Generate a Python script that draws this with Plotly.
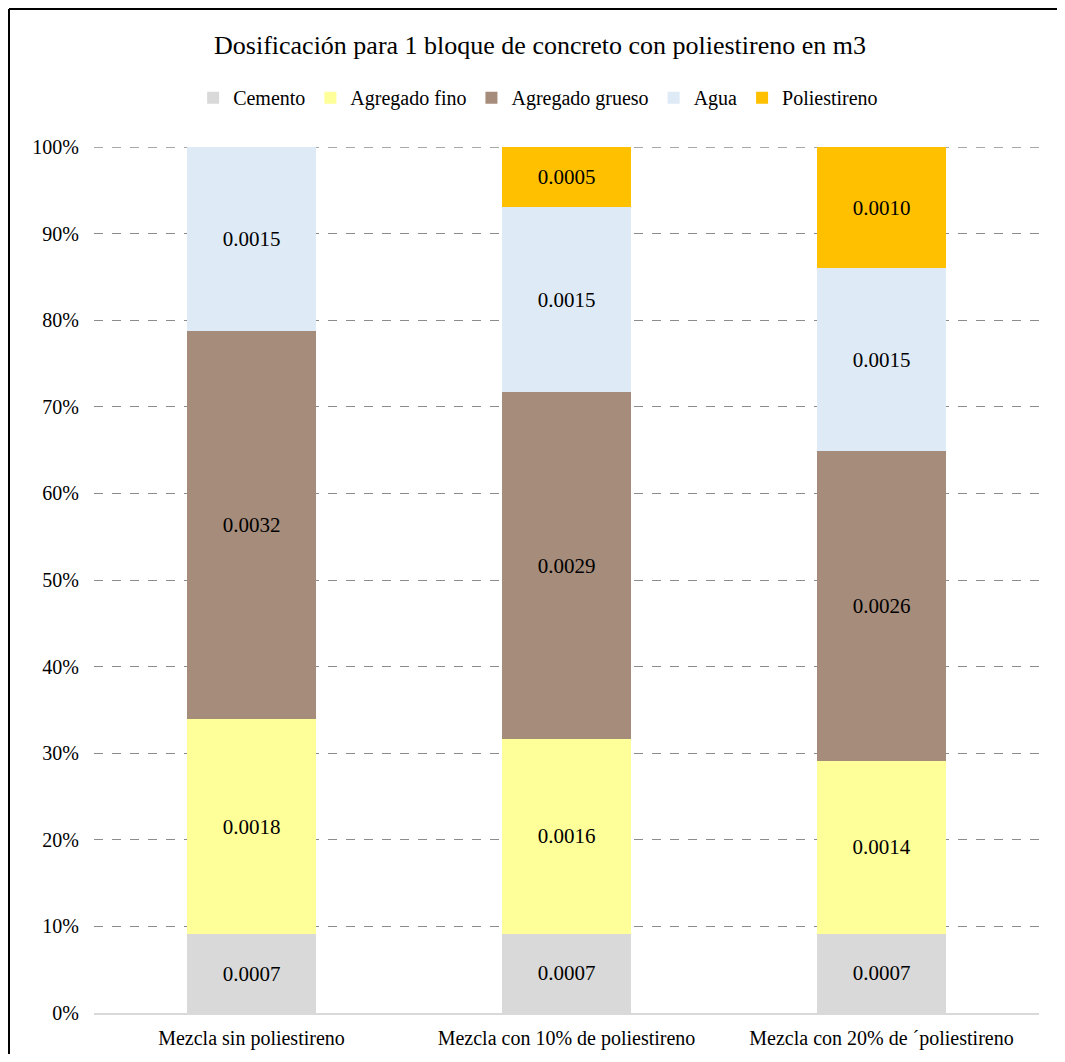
import plotly.graph_objects as go

categories = ["Mezcla sin poliestireno", "Mezcla con 10% de poliestireno", "Mezcla con 20% de ´poliestireno"]
series_names = ["Cemento", "Agregado fino", "Agregado grueso", "Agua", "Poliestireno"]
cemento = [0.00066, 0.00066, 0.00066]
agregado_fino = [0.00180, 0.00162, 0.00144]
agregado_grueso = [0.00325, 0.00289, 0.00258]
agua = [0.00154, 0.00154, 0.00152]
poliestireno = [None, 0.00050, 0.00101]
colors = ["#D9D9D9", "#FFFF99", "#A68C7A", "#DEEAF6", "#FFC000"]
yticks = [0, 10, 20, 30, 40, 50, 60, 70, 80, 90, 100]

series = [cemento, agregado_fino, agregado_grueso, agua, poliestireno]
FONT = "Liberation Serif"

fig = go.Figure()
for name, vals, col in zip(series_names, series, colors):
    fig.add_trace(go.Bar(
        x=categories, y=vals, name=name,
        marker=dict(color=col, line=dict(width=0)),
        text=[("" if v is None else f"{v:.4f}") for v in vals],
        textposition="inside", insidetextanchor="middle", textangle=0,
        textfont=dict(family=FONT, size=21, color="black"),
        hoverinfo="skip",
    ))

# plot area in screen px: left 94, right 1039, top 147, bottom 1013 (page has 8px body margin)
PW = 1039 - 94
PH = 1013 - 147

def px(x):
    return (x - 94) / PW

def py(y):
    return (1013 - y) / PH

fig.update_layout(
    barmode="stack", barnorm="percent", bargap=0.59,
    width=1049, height=1046,
    margin=dict(l=86, r=18, t=139, b=41, autoexpand=False),
    paper_bgcolor="white", plot_bgcolor="white",
    font=dict(family=FONT, size=20, color="black"),
    title=dict(text="Dosificación para 1 bloque de concreto con poliestireno en m3",
               x=(540 - 8) / 1049, xanchor="center", y=1 - 37 / 1046, yanchor="middle",
               font=dict(family=FONT, size=26, color="black")),
    legend=dict(orientation="h", x=0.47, xanchor="center", y=1.057, yanchor="middle",
                font=dict(family=FONT, size=20, color="black"),
                itemwidth=30, tracegroupgap=0, traceorder="normal"),
    showlegend=True,
    uniformtext=dict(mode=False),
    shapes=[
        dict(type="line", xref="paper", yref="paper",
             x0=px(9), x1=px(1100), y0=py(9), y1=py(9),
             line=dict(color="black", width=2), layer="below"),
        dict(type="line", xref="paper", yref="paper",
             x0=px(9), x1=px(9), y0=py(9), y1=py(1100),
             line=dict(color="black", width=2), layer="below"),
        dict(type="line", xref="paper", yref="y", x0=0, x1=1, y0=100, y1=100,
             line=dict(color="#8C8C8C", width=1.3, dash="dash"), layer="below"),
    ],
)
fig.update_yaxes(range=[0, 100], tickvals=yticks, ticktext=[f"{t}%" for t in yticks],
                 showgrid=True, gridcolor="#8C8C8C", griddash="dash", gridwidth=1.3,
                 zeroline=False, showline=False, ticks="", ticklen=0, ticklabelstandoff=14,
                 automargin=False,
                 tickfont=dict(family=FONT, size=20, color="black"))
fig.update_xaxes(showline=True, linecolor="#D9D9D9", linewidth=1.5, ticks="", ticklabelstandoff=6,
                 automargin=False,
                 tickfont=dict(family=FONT, size=20, color="black"))

fig.write_html("out.html")
